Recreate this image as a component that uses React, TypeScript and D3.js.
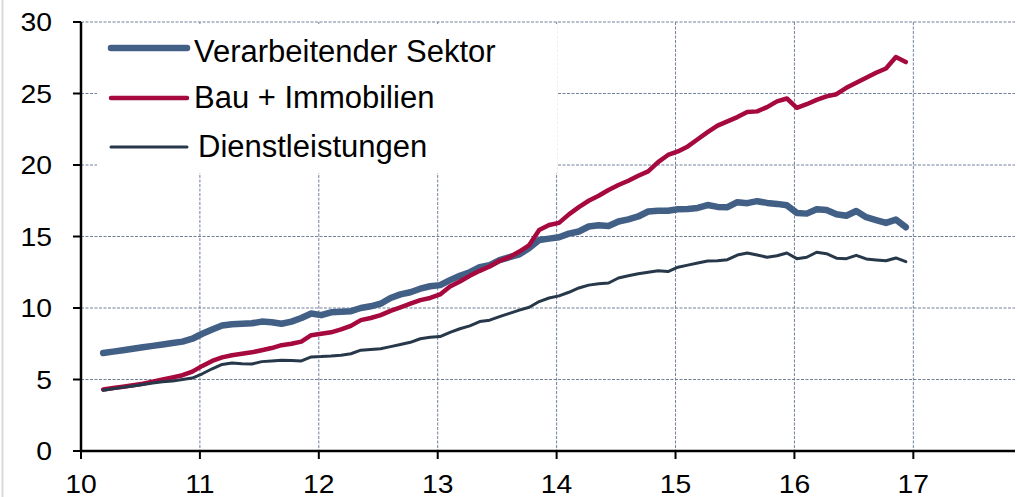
import React from "react";
import * as d3 from "d3";

// Monthly observations, March 2010 to December 2016
const startYear = 2010;
const startMonth = 3;

const verarbeitender: number[] = [
  // 2010 Mar-Dec
  6.85, 6.95, 7.05, 7.15, 7.25, 7.35, 7.45, 7.55, 7.65, 7.85,
  // 2011
  8.2, 8.5, 8.78, 8.87, 8.9, 8.93, 9.05, 9.0, 8.9, 9.05, 9.3, 9.62,
  // 2012
  9.5, 9.7, 9.74, 9.78, 10.0, 10.12, 10.3, 10.7, 10.95, 11.1, 11.35, 11.52,
  // 2013
  11.6, 11.95, 12.25, 12.5, 12.85, 13.0, 13.35, 13.55, 13.75, 14.2, 14.75, 14.85,
  // 2014
  14.95, 15.2, 15.35, 15.7, 15.78, 15.73, 16.05, 16.2, 16.4, 16.75, 16.8, 16.8,
  // 2015
  16.9, 16.93, 17.0, 17.2, 17.07, 17.05, 17.4, 17.33, 17.47, 17.35, 17.28, 17.18,
  // 2016
  16.65, 16.6, 16.9, 16.85, 16.55, 16.45, 16.78, 16.35, 16.15, 15.95, 16.18, 15.65,
];

const bauImmobilien: number[] = [
  4.3, 4.4, 4.5, 4.6, 4.7, 4.85, 5.0, 5.15, 5.3, 5.55,
  5.95, 6.3, 6.55, 6.7, 6.8, 6.9, 7.05, 7.2, 7.4, 7.5, 7.65, 8.1,
  8.2, 8.3, 8.5, 8.75, 9.15, 9.3, 9.5, 9.8, 10.05, 10.3, 10.55, 10.7,
  10.95, 11.5, 11.85, 12.25, 12.6, 12.9, 13.3, 13.55, 13.95, 14.4, 15.45, 15.8,
  15.95, 16.55, 17.05, 17.5, 17.85, 18.25, 18.6, 18.9, 19.25, 19.55, 20.2, 20.7,
  20.95, 21.3, 21.8, 22.3, 22.75, 23.05, 23.35, 23.7, 23.75, 24.05, 24.45, 24.65,
  24.0, 24.25, 24.55, 24.8, 24.95, 25.4, 25.75, 26.1, 26.45, 26.75, 27.55, 27.2,
];

const dienstleistungen: number[] = [
  4.25, 4.35, 4.45, 4.55, 4.65, 4.75, 4.85, 4.9, 5.0, 5.1,
  5.4, 5.75, 6.05, 6.15, 6.1, 6.08, 6.25, 6.3, 6.35, 6.33, 6.3, 6.58,
  6.6, 6.64, 6.7, 6.8, 7.05, 7.1, 7.15, 7.3, 7.45, 7.6, 7.85, 7.95,
  8.0, 8.3, 8.55, 8.75, 9.05, 9.15, 9.4, 9.62, 9.85, 10.05, 10.45, 10.7,
  10.85, 11.1, 11.4, 11.6, 11.7, 11.75, 12.1, 12.25, 12.4, 12.5, 12.6, 12.55,
  12.85, 13.0, 13.15, 13.28, 13.3, 13.38, 13.7, 13.85, 13.7, 13.55, 13.65, 13.85,
  13.45, 13.55, 13.9, 13.8, 13.48, 13.45, 13.68, 13.43, 13.36, 13.3, 13.5, 13.24,
];

const xTicks = [10, 11, 12, 13, 14, 15, 16, 17];
const yTicks = [0, 5, 10, 15, 20, 25, 30];

const seriesNames = ["Verarbeitender Sektor", "Bau + Immobilien", "Dienstleistungen"];
const seriesColors = ["#425f86", "#a6093d", "#26384a"];
const seriesWidths = [6.5, 4.5, 3];

const W = 1020;
const H = 497;
const FONT = "'Liberation Sans', Arial, sans-serif";

export default function App() {
  const x = d3.scaleLinear().domain([10, 17.855]).range([81, 1015]);
  const y = d3.scaleLinear().domain([0, 30]).range([451, 22]);

  const tOf = (i: number) => (startYear - 2000) + (startMonth - 1 + i) / 12 + 0.02;

  const allSeries = [verarbeitender, bauImmobilien, dienstleistungen];
  const line = d3
    .line<number>()
    .x((_, i) => x(tOf(i)))
    .y((d) => y(d));

  const gridColor = "#72819b";
  const legendBox = { x0: 97, x1: 557, y0: 24, y1: 173 };

  return (
    <svg
      width={W}
      height={H}
      style={{ position: "absolute", left: 0, top: 0, background: "#fff" }}
      fontFamily={FONT}
    >
      <rect x={0} y={0} width={W} height={H} fill="#fff" />
      <line x1={2.5} x2={2.5} y1={0} y2={H} stroke="#d9d9d9" strokeWidth={2} />

      {/* horizontal grid */}
      {yTicks
        .filter((v) => v > 0)
        .map((v) => (
          <line
            key={"hg" + v}
            x1={x(10)}
            x2={1015}
            y1={y(v)}
            y2={y(v)}
            stroke={gridColor}
            strokeWidth={1}
            strokeDasharray="3,1.5"
          />
        ))}
      {/* vertical grid */}
      {xTicks
        .filter((v) => v > 10)
        .map((v) => (
          <line
            key={"vg" + v}
            x1={x(v)}
            x2={x(v)}
            y1={y(30)}
            y2={y(0)}
            stroke={gridColor}
            strokeWidth={1}
            strokeDasharray="3,1.5"
          />
        ))}

      {/* legend background covers the grid */}
      <rect
        x={legendBox.x0}
        y={legendBox.y0}
        width={legendBox.x1 - legendBox.x0}
        height={legendBox.y1 - legendBox.y0}
        fill="#fff"
      />

      {/* series */}
      {allSeries.map((s, k) => (
        <path
          key={"s" + k}
          d={line(s) || ""}
          fill="none"
          stroke={seriesColors[k]}
          strokeWidth={seriesWidths[k]}
          strokeLinejoin="round"
          strokeLinecap="round"
        />
      ))}

      {/* axes */}
      <line x1={x(10)} x2={x(10)} y1={y(30)} y2={y(0)} stroke="#000" strokeWidth={2.5} />
      <line x1={x(10) - 1} x2={1015} y1={y(0)} y2={y(0)} stroke="#000" strokeWidth={2.5} />
      {yTicks.map((v) => (
        <g key={"yt" + v}>
          <line x1={x(10) - 8} x2={x(10)} y1={y(v)} y2={y(v)} stroke="#000" strokeWidth={2} />
          <text
            transform={`translate(52,${y(v) + 9.3}) scale(1.09,1)`}
            textAnchor="end"
            fontSize={26}
            fill="#000"
          >
            {v}
          </text>
        </g>
      ))}
      {xTicks.map((v) => (
        <g key={"xt" + v}>
          <line x1={x(v)} x2={x(v)} y1={y(0)} y2={y(0) + 8} stroke="#000" strokeWidth={2} />
          <text
            transform={`translate(${x(v)},493) scale(1.09,1)`}
            textAnchor="middle"
            fontSize={26}
            fill="#000"
          >
            {v}
          </text>
        </g>
      ))}

      {/* legend */}
      {seriesNames.map((name, k) => {
        const ly = [48, 98, 147][k];
        const ty = [62, 108, 157][k];
        const tx = [194, 194, 198][k];
        return (
          <g key={"lg" + k}>
            <line
              x1={111}
              x2={187}
              y1={ly}
              y2={ly}
              stroke={seriesColors[k]}
              strokeWidth={seriesWidths[k]}
              strokeLinecap="round"
            />
            <text x={tx} y={ty} fontSize={31} fill="#000">
              {name}
            </text>
          </g>
        );
      })}
    </svg>
  );
}
